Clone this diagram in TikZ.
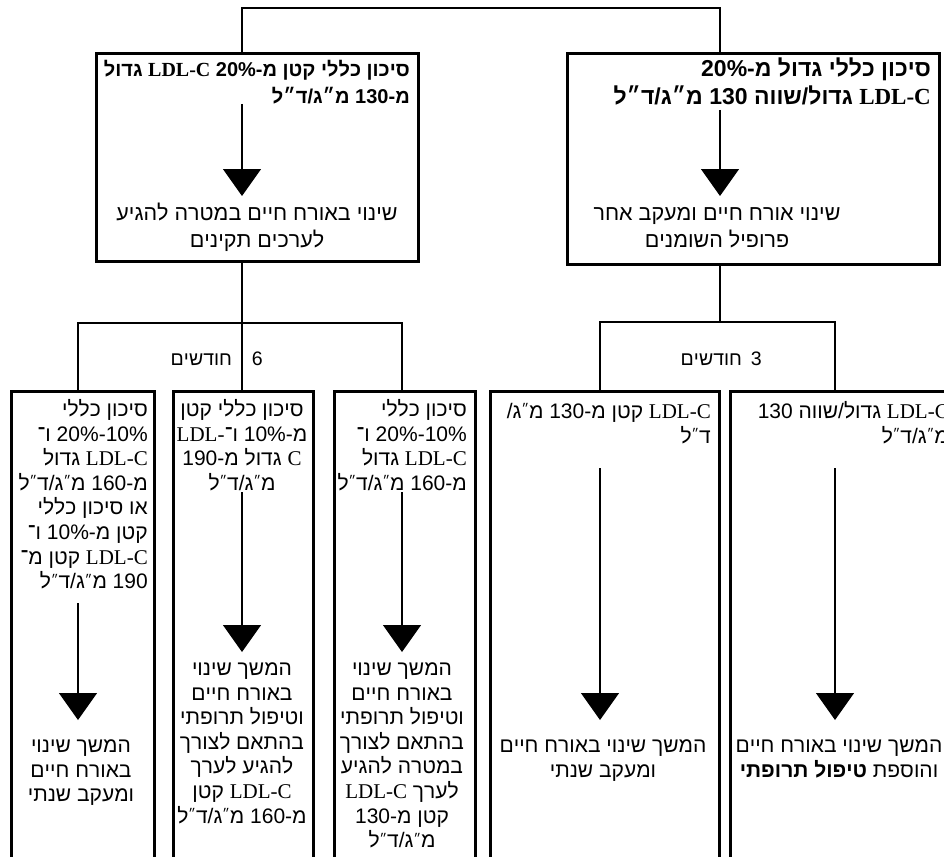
\documentclass[tikz,border=0pt]{standalone}
\usepackage{fontspec}
\setmainfont{Liberation Sans}
\newfontfamily\latser{Liberation Serif}
\TeXXeTstate=1
\usetikzlibrary{arrows.meta}
\newcommand\RR[1]{\beginR\strut #1\endR}
\newcommand\LL[1]{\beginL #1\endL{}}
\newcommand\ldl{\beginL{\latser LDL-C}\endL{}}
\newcommand\gs{{\fontsize{12.5}{0}\selectfont\raisebox{4.5pt}{״}}}
\newcommand\mgdl{מ\gs ג/ד\gs ל}
\newcommand\tightlines{\lineskiplimit=-50pt\relax\lineskip=0pt\relax}
\tikzset{
  box/.style={draw, line width=2.6pt, inner sep=0pt, anchor=north west},
  conn/.style={line width=1.2pt},
  arr/.style={line width=1.2pt, -{Triangle[width=38pt,length=27pt]}},
  txtT/.style={inner sep=0pt, font=\fontsize{21.5}{27}\selectfont\tightlines},
  txtB/.style={inner sep=0pt, font=\fontsize{21}{24.6}\selectfont\tightlines},
  lbl/.style={inner sep=0pt, font=\fontsize{19.5}{24.5}\selectfont},
}
\begin{document}
\begin{tikzpicture}[x=1pt,y=-1pt]
\useasboundingbox (0,0) rectangle (944,856);
\clip (0,0) rectangle (944,856);
% boxes
\node[box, minimum width=322pt, minimum height=208pt] (tl) at (95,52) {};
\node[box, minimum width=372pt, minimum height=211pt] (tr) at (566,52) {};
\node[box, minimum width=143pt, minimum height=480pt] (bA) at (10,390) {};
\node[box, minimum width=140pt, minimum height=480pt] (bB) at (172,390) {};
\node[box, minimum width=141pt, minimum height=480pt] (bC) at (333,390) {};
\node[box, minimum width=229pt, minimum height=480pt] (bD) at (489,390) {};
\node[box, minimum width=231pt, minimum height=480pt] (bE) at (729,390) {};
% connectors
\coordinate (jL) at (242,8);
\coordinate (jR) at (720,8);
\draw[conn] (tl.north -| jL) -- (jL) -- (jR) -- (tr.north -| jR);
\draw[conn] (tl.south -| jL) -- (bB.north -| jL);
\coordinate (hL) at (78,323);
\coordinate (hL2) at (402,323);
\draw[conn] (bA.north -| hL) -- (hL) -- (hL2) -- (bC.north -| hL2);
\coordinate (hR) at (600,322);
\coordinate (hR2) at (835,322);
\draw[conn] (tr.south -| jR) -- (jR |- hR);
\draw[conn] (bD.north -| hR) -- (hR) -- (hR2) -- (bE.north -| hR2);
% labels
\node[lbl, anchor=base east] (l6) at (263,365) {\RR{\LL{6}\hspace{20pt}חודשים}};
\node[lbl, anchor=base east] (l3) at (762,365) {\RR{\LL{3}\hspace{9pt}חודשים}};
% top boxes text
\node[inner sep=0pt, font=\fontsize{20}{26.5}\selectfont\bfseries, anchor=north east, align=right] (tlb) at (410,58)
  {\RR{סיכון כללי קטן מ\LL{20\%-} \ldl{} גדול}\\\RR{מ\LL{130-} מ״ג/ד״ל}};
\node[inner sep=0pt, font=\fontsize{23}{26.5}\selectfont\bfseries, anchor=north east, align=right] (trb) at (931,58)
  {\RR{סיכון כללי גדול מ\LL{20\%-}}\\\RR{\ldl{} גדול/שווה \LL{130} מ״ג/ד״ל}};
\node[txtT, anchor=north, align=center] (tlr) at (257,201)
  {\RR{שינוי באורח חיים במטרה להגיע}\\\RR{לערכים תקינים}};
\node[txtT, anchor=north, align=center] (trr) at (717,201)
  {\RR{שינוי אורח חיים ומעקב אחר}\\\RR{פרופיל השומנים}};
% top arrows
\coordinate (tla1) at (242,104); \coordinate (tla2) at (242,196);
\draw[arr] (tla1) -- (tla2);
\coordinate (tra1) at (720,110); \coordinate (tra2) at (720,196);
\draw[arr] (tra1) -- (tra2);
% bottom boxes top texts
\node[txtB, anchor=north east, align=right] (tA) at (148,399)
  {\RR{סיכון כללי}\\\RR{\LL{20\%-10\%} ו־}\\\RR{\ldl{} גדול}\\\RR{מ\LL{160-} \mgdl}\\\RR{או סיכון כללי}\\\RR{קטן מ\LL{10\%-} ו־}\\\RR{\ldl{} קטן מ־}\\\RR{\LL{190} \mgdl}};
\node[txtB, anchor=north, align=center] (tB) at (242,399)
  {\RR{סיכון כללי קטן}\\\RR{מ\LL{10\%-} ו־\beginL{\latser LDL-}\endL{}}\\\RR{\beginL{\latser C}\endL{} גדול מ\LL{190-}}\\\RR{\mgdl}};
\node[txtB, anchor=north east, align=right] (tC) at (467,399)
  {\RR{סיכון כללי}\\\RR{\LL{20\%-10\%} ו־}\\\RR{\ldl{} גדול}\\\RR{מ\LL{160-} \mgdl}};
\node[txtB, anchor=north east, align=right] (tD) at (711,401)
  {\RR{\ldl{} קטן מ\LL{130-} מ\gs ג\LL{/}}\\\RR{ד\gs ל}};
\node[txtB, anchor=north east, align=right] (tE) at (949,401)
  {\RR{\ldl{} גדול/שווה \LL{130}}\\\RR{\mgdl}};
% bottom arrows
\coordinate (aA1) at (78,603); \coordinate (aA2) at (78,720);
\draw[arr] (aA1) -- (aA2);
\coordinate (aB1) at (242,492); \coordinate (aB2) at (242,652);
\draw[arr] (aB1) -- (aB2);
\coordinate (aC1) at (402,492); \coordinate (aC2) at (402,652);
\draw[arr] (aC1) -- (aC2);
\coordinate (aD1) at (600,468); \coordinate (aD2) at (600,720);
\draw[arr] (aD1) -- (aD2);
\coordinate (aE1) at (835,468); \coordinate (aE2) at (835,720);
\draw[arr] (aE1) -- (aE2);
% bottom texts
\node[txtB, anchor=north, align=center] (rA) at (81,735)
  {\RR{המשך שינוי}\\\RR{באורח חיים}\\\RR{ומעקב שנתי}};
\node[txtB, anchor=north, align=center] (rB) at (242,658)
  {\RR{המשך שינוי}\\\RR{באורח חיים}\\\RR{וטיפול תרופתי}\\\RR{בהתאם לצורך}\\\RR{להגיע לערך}\\\RR{\ldl{} קטן}\\\RR{מ\LL{160-} \mgdl}};
\node[txtB, anchor=north, align=center] (rC) at (402,658)
  {\RR{המשך שינוי}\\\RR{באורח חיים}\\\RR{וטיפול תרופתי}\\\RR{בהתאם לצורך}\\\RR{במטרה להגיע}\\\RR{לערך \ldl}\\\RR{קטן מ\LL{130-}}\\\RR{\mgdl}};
\node[txtB, anchor=north, align=center] (rD) at (603,735)
  {\RR{המשך שינוי באורח חיים}\\\RR{ומעקב שנתי}};
\node[txtB, anchor=north, align=center] (rE) at (839,735)
  {\RR{המשך שינוי באורח חיים}\\\RR{והוספת \textbf{טיפול תרופתי}}};
\end{tikzpicture}
\end{document}
